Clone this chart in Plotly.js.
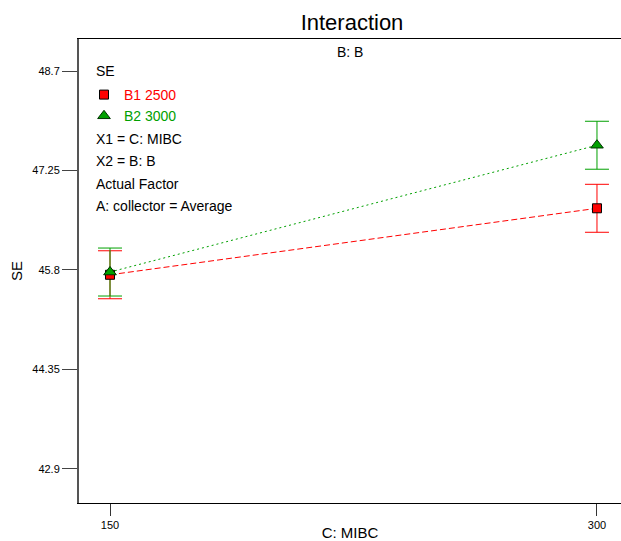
<!DOCTYPE html>
<html>
<head>
<meta charset="utf-8">
<script src="https://cdn.plot.ly/plotly-3.0.1.min.js"></script>
<style>html,body{margin:0;padding:0;background:#fff;}#chart{width:621px;height:541px;}</style>
</head>
<body>
<div id="chart"></div>
<script>
// Data
var mibcLevels = [150, 300];
var b1Name = "B1 2500";
var b2Name = "B2 3000";
var b1SE = [45.73, 46.70];
var b2SE = [45.77, 47.62];
var b1Err = [0.35, 0.35];
var b2Err = [0.35, 0.35];
var yTickVals = [42.9, 44.35, 45.8, 47.25, 48.7];
var yTickText = ["42.9", "44.35", "45.8", "47.25", "48.7"];
var xTickVals = [150, 300];
var xTickText = ["150", "300"];
var legendHeading = "SE";
var infoLines = ["X1 = C: MIBC", "X2 = B: B", "Actual Factor", "A: collector = Average"];

var RED = "#ff0000", GREEN = "#00a000";
var narrow = "'Liberation Sans Narrow', 'Arial Narrow', 'Liberation Sans', Arial, sans-serif";
var sans = "'Liberation Sans', Arial, sans-serif";

var traces = [
  {
    x: mibcLevels, y: b1SE, type: "scatter", mode: "lines",
    line: {color: RED, width: 1, dash: "6px,3px"},
    error_y: {type: "data", array: b1Err, visible: true, color: RED, thickness: 1, width: 12},
    showlegend: false, hoverinfo: "skip"
  },
  {
    x: mibcLevels, y: b2SE, type: "scatter", mode: "lines",
    line: {color: GREEN, width: 1, dash: "2px,3px"},
    error_y: {type: "data", array: b2Err, visible: true, color: GREEN, thickness: 1, width: 12},
    showlegend: false, hoverinfo: "skip"
  },
  {
    x: mibcLevels, y: b1SE, type: "scatter", mode: "markers", name: '<span style="color:' + RED + '">' + b1Name + '</span>',
    marker: {symbol: "square", size: 9, color: RED, line: {color: "#000", width: 1}},
    showlegend: true
  },
  {
    x: mibcLevels, y: b2SE, type: "scatter", mode: "markers", name: '<span style="color:' + GREEN + '">' + b2Name + '</span>',
    marker: {symbol: "triangle-up", size: 11, color: GREEN, line: {color: "#003300", width: 1}},
    showlegend: true
  }
];

var PW = 542, PH = 464, PL = 79, PT = 39;
var annotations = [
  {text: "B: B", xref: "paper", yref: "paper", x: 0.5, y: 1 - 13/PH, xanchor: "center", yanchor: "middle",
   showarrow: false, font: {family: sans, size: 14, color: "#000"}},
  {text: legendHeading, xref: "paper", yref: "paper", x: (94-PL)/PW, y: 1 - (71-PT)/PH, xanchor: "left", yanchor: "middle",
   showarrow: false, font: {family: sans, size: 14, color: "#000"}}
];
infoLines.forEach(function(t, i){
  annotations.push({text: t, xref: "paper", yref: "paper", x: (94-PL)/PW, y: 1 - (139 + i*22.4 - PT)/PH,
    xanchor: "left", yanchor: "middle", showarrow: false, font: {family: sans, size: 14, color: "#000"}});
});

var layout = {
  width: 621, height: 541,
  margin: {l: PL, r: 0, t: PT, b: 38},
  paper_bgcolor: "#fff", plot_bgcolor: "#fff",
  title: {text: "Interaction", font: {family: narrow, size: 22, color: "#000"}, x: 352/621, xanchor: "center", y: 1 - 22/541, yanchor: "middle", yref: "container"},
  xaxis: {
    range: [140.45, 307.4], tickvals: xTickVals, ticktext: xTickText,
    showgrid: false, zeroline: false, showline: true, linecolor: "#000", linewidth: 1, mirror: true,
    ticks: "outside", ticklen: 12, tickcolor: "#333", tickfont: {family: narrow, size: 11, color: "#000"},
    title: {text: "C: MIBC", font: {family: sans, size: 15, color: "#000"}, standoff: 6}
  },
  yaxis: {
    range: [42.40, 49.17], tickvals: yTickVals, ticktext: yTickText,
    showgrid: false, zeroline: false, showline: true, linecolor: "#555", linewidth: 2,
    ticks: "outside", ticklen: 15, tickcolor: "#444", tickfont: {family: narrow, size: 11, color: "#000"},
    title: {text: "SE", font: {family: sans, size: 15, color: "#000"}, standoff: 6}
  },
  showlegend: true,
  legend: {
    x: (84-PL)/PW, y: 1 - (79-PT)/PH, xanchor: "left", yanchor: "top",
    bgcolor: "rgba(0,0,0,0)", borderwidth: 0,
    font: {family: sans, size: 14, color: "#000"},
    itemwidth: 30, tracegroupgap: 0, traceorder: "normal"
  },
  annotations: annotations
};

Plotly.newPlot("chart", traces, layout, {displayModeBar: false, staticPlot: true});
</script>
</body>
</html>
